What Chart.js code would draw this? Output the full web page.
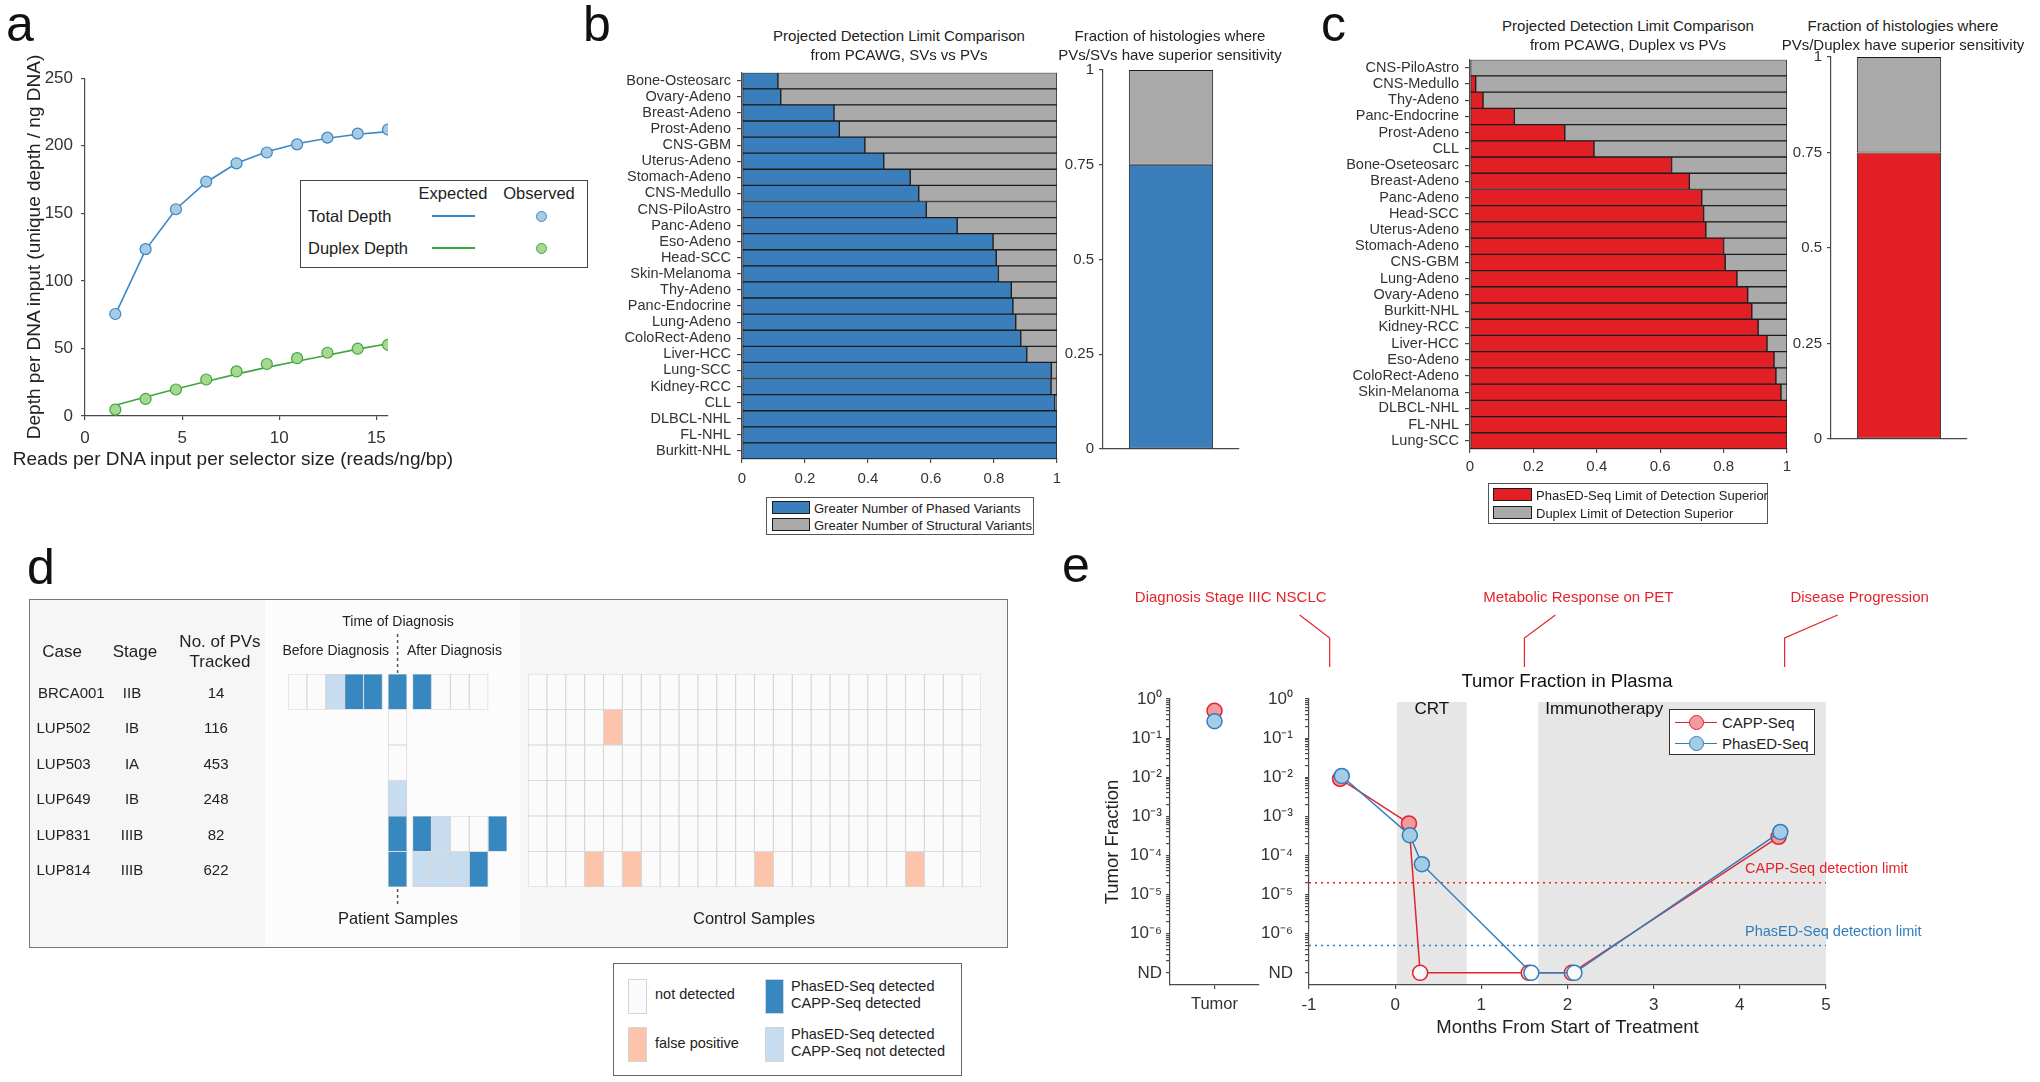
<!DOCTYPE html>
<html>
<head>
<meta charset="utf-8">
<title>PhasED-Seq figure</title>
<script src="https://cdn.jsdelivr.net/npm/chart.js@4.4.1/dist/chart.umd.min.js"></script>
<style>
  html, body { margin: 0; padding: 0; background: #fff; }
  body { position: relative; width: 2040px; height: 1082px; overflow: hidden;
         font-family: 'Liberation Sans', Arial, Helvetica, sans-serif; color: #222; }
  canvas { position: absolute; }
  .lbl { position: absolute; white-space: nowrap; line-height: 1; }
  .blk { position: absolute; box-sizing: border-box; }
</style>
</head>
<body>
<script>
// ---------- a: depth vs reads ----------
const readsPerBp      = [1.56, 3.12, 4.68, 6.24, 7.8, 9.36, 10.92, 12.48, 14.04, 15.6];
const totalObserved   = [75.5, 123.5, 153, 173.5, 187, 195, 201, 206, 209, 212];
const totalExpected   = [75, 123, 153, 173, 187, 195.5, 201.5, 205.5, 208.5, 210.5];
const duplexObserved  = [4.7, 12.6, 19.6, 27, 33, 38.5, 42.8, 46.8, 49.8, 52.7];
const duplexExpected  = [8, 14, 20, 25.5, 31, 36, 40.5, 45, 49.5, 53.5];
const depthTicksX = [0, 5, 10, 15];
const depthTicksY = [0, 50, 100, 150, 200, 250];

// ---------- b: SVs vs PVs ----------
const histologiesSV = ['Bone-Osteosarc', 'Ovary-Adeno', 'Breast-Adeno', 'Prost-Adeno', 'CNS-GBM', 'Uterus-Adeno',
  'Stomach-Adeno', 'CNS-Medullo', 'CNS-PiloAstro', 'Panc-Adeno', 'Eso-Adeno', 'Head-SCC', 'Skin-Melanoma',
  'Thy-Adeno', 'Panc-Endocrine', 'Lung-Adeno', 'ColoRect-Adeno', 'Liver-HCC', 'Lung-SCC', 'Kidney-RCC', 'CLL',
  'DLBCL-NHL', 'FL-NHL', 'Burkitt-NHL'];
const pvOverSV = [0.114, 0.123, 0.292, 0.309, 0.39, 0.45, 0.534, 0.561, 0.585, 0.683, 0.797, 0.807, 0.814,
  0.855, 0.86, 0.869, 0.885, 0.904, 0.982, 0.981, 0.993, 1, 1, 1];
const pvOverSVSummary = 0.75;

// ---------- c: Duplex vs PVs ----------
const histologiesDuplex = ['CNS-PiloAstro', 'CNS-Medullo', 'Thy-Adeno', 'Panc-Endocrine', 'Prost-Adeno', 'CLL',
  'Bone-Oseteosarc', 'Breast-Adeno', 'Panc-Adeno', 'Head-SCC', 'Uterus-Adeno', 'Stomach-Adeno', 'CNS-GBM',
  'Lung-Adeno', 'Ovary-Adeno', 'Burkitt-NHL', 'Kidney-RCC', 'Liver-HCC', 'Eso-Adeno', 'ColoRect-Adeno',
  'Skin-Melanoma', 'DLBCL-NHL', 'FL-NHL', 'Lung-SCC'];
const pvOverDuplex = [0, 0.018, 0.041, 0.14, 0.299, 0.391, 0.636, 0.692, 0.731, 0.737, 0.744, 0.8, 0.805,
  0.842, 0.876, 0.889, 0.909, 0.937, 0.959, 0.965, 0.981, 1, 1, 1];
const pvOverDuplexSummary = 0.75;

const fracTicks = [0, 0.2, 0.4, 0.6, 0.8, 1];
const fracLabels = ['0', '0.2', '0.4', '0.6', '0.8', '1'];
const summaryTicks = [0, 0.25, 0.5, 0.75, 1];
const summaryLabels = ['0', '0.25', '0.5', '0.75', '1'];

// ---------- d: patient / control samples ----------
const cases = ['BRCA001', 'LUP502', 'LUP503', 'LUP649', 'LUP831', 'LUP814'];
const stages = ['IIB', 'IB', 'IA', 'IB', 'IIIB', 'IIIB'];
const pvsTracked = [14, 116, 453, 248, 82, 622];
// 0 not detected, 1 false positive, 2 both detected, 3 PhasED-Seq only
const beforeDx = [[0, 0, 3, 2, 2], [], [], [], [], []];
const atDx = [2, 0, 0, 3, 2, 2];
const afterDx = [[2, 0, 0, 0], [], [], [], [2, 3, 0, 0, 2], [3, 3, 3, 2]];
const controlCount = 24;
const controlFalsePos = [[], [4], [], [], [], [3, 5, 12, 20]];

// ---------- e: tumor fraction in plasma ----------
const ND = 1e-7;
const monthsCapp   = [-0.64, 0.16, 0.29, 1.55, 2.05, 4.45];
const tfCapp       = [9.1e-3, 6.6e-4, ND, ND, ND, 3.0e-4];
const monthsPhased = [-0.62, 0.17, 0.31, 1.58, 2.08, 4.47];
const tfPhased     = [1.08e-2, 3.3e-4, 6e-5, ND, ND, 4.0e-4];
const tumorCapp = 0.5, tumorPhased = 0.27;
const cappLimit = 2e-5, phasedLimit = 5e-7;
const therapyNames = ['CRT', 'Immunotherapy'];
const therapyStart = [0.02, 1.66];
const therapyEnd   = [0.83, 5];
const events = ['Diagnosis Stage IIIC NSCLC', 'Metabolic Response on PET', 'Disease Progression'];
const eventMonth = [-0.76, 1.5, 4.52];
const monthTicks = [-1, 0, 1, 2, 3, 4, 5];
const tfDecadeLabels = ['ND', '10⁻⁶', '10⁻⁵', '10⁻⁴', '10⁻³', '10⁻²', '10⁻¹', '10⁰'];

// ---------- styling ----------
const FONT = "'Liberation Sans', Arial, Helvetica, sans-serif";
const BLUE = '#3a7fbc', GREY = '#aaaaaa', RED = '#e31f26', EDGE = '#1c1c1c';
const AXIS = '#4a4a4a', TICK = '#333';
const E_RED = '#e4232b', E_RED_FILL = '#f39a9e', E_BLUE = '#2e7ebf', E_BLUE_FILL = '#a4cde4';
const CELL_FILL = ['#fbfbfb', '#fbc4ab', '#3787c1', '#c7dcef'];
const CELL_EDGE = '#d5d5d5';

Chart.defaults.font.family = FONT;
Chart.defaults.color = TICK;
Chart.defaults.animation = false;
Chart.defaults.events = [];
Chart.defaults.plugins.legend.display = false;
Chart.defaults.plugins.tooltip.enabled = false;

function mount(x, y, w, h) {
  const c = document.createElement('canvas');
  c.width = w; c.height = h;
  c.style.left = x + 'px'; c.style.top = y + 'px';
  c.style.width = w + 'px'; c.style.height = h + 'px';
  document.body.appendChild(c);
  return c;
}

function text(str, x, y, size, opt = {}) {
  const d = document.createElement('div');
  d.className = 'lbl';
  d.textContent = str;
  const shift = {left: '0', center: '-50%', right: '-100%'}[opt.align || 'center'];
  const rot = opt.rotate ? ` rotate(${opt.rotate}deg)` : '';
  Object.assign(d.style, {left: x + 'px', top: y + 'px', fontSize: size + 'px',
    color: opt.color || '#222', transform: `translate(${shift}, -50%)${rot}`});
  document.body.appendChild(d);
}

function block(x, y, w, h, css) {
  const d = document.createElement('div');
  d.className = 'blk';
  d.style.cssText = `left:${x}px;top:${y}px;width:${w}px;height:${h}px;${css}`;
  document.body.appendChild(d);
}

function merge(base, extra) {
  const out = Object.assign({}, base);
  for (const k in extra) {
    const v = extra[k];
    const plain = v && typeof v === 'object' && !Array.isArray(v);
    out[k] = plain && base[k] && typeof base[k] === 'object' ? merge(base[k], v) : v;
  }
  return out;
}

const axis = extra => merge({
  border: {color: AXIS, width: 1.2},
  grid: {drawOnChartArea: false, color: AXIS, tickLength: 4, lineWidth: 1.2},
  ticks: {font: {size: 15}, color: TICK, autoSkip: false, maxRotation: 0, padding: 4}
}, extra || {});

const setTicks = values => s => { s.ticks = values.map(v => ({value: v})); };
const labelAt = labels => (v, i) => labels[i];
const xy = (xs, ys) => xs.map((x, i) => ({x, y: ys[i]}));

// area = chart area in page pixels, m = room left for the axes around it
function chartAt(area, m, config) {
  const w = area.r - area.l + m.l + m.r, h = area.b - area.t + m.t + m.b;
  const cv = mount(area.l - m.l, area.t - m.t, w, h);
  const o = config.options;
  o.responsive = false;
  o.layout = {padding: {left: 0, right: m.r, top: m.t, bottom: 0}};
  o.scales.x.afterFit = s => { s.height = m.b; };
  o.scales.y.afterFit = s => { s.width = m.l; };
  return new Chart(cv, config);
}

// ---------- panel d backgrounds (behind the grids) ----------
block(29, 599, 236, 349, 'background:#f6f6f6');
block(265, 599, 255, 349, 'background:#fcfcfc');
block(520, 599, 488, 349, 'background:#f6f6f6');

// ---------- a ----------
chartAt({l: 85, t: 78, r: 388, b: 416}, {l: 85, t: 18, r: 12, b: 40}, {
  type: 'line',
  data: {datasets: [
    {data: xy(readsPerBp, totalObserved), showLine: false, pointRadius: 5.5, pointBorderWidth: 1.2,
      pointBackgroundColor: '#a6cbe3', pointBorderColor: '#3a87c6'},
    {data: xy(readsPerBp, duplexObserved), showLine: false, pointRadius: 5.5, pointBorderWidth: 1.2,
      pointBackgroundColor: '#a6d88f', pointBorderColor: '#3ea63e'},
    {data: xy(readsPerBp, totalExpected), borderColor: '#3a87c6', borderWidth: 1.6, pointRadius: 0},
    {data: xy(readsPerBp, duplexExpected), borderColor: '#3ea63e', borderWidth: 1.6, pointRadius: 0}
  ]},
  options: {scales: {
    x: axis({type: 'linear', min: 0, max: 15.6, afterBuildTicks: setTicks(depthTicksX),
      ticks: {font: {size: 17}, padding: 8}}),
    y: axis({min: 0, max: 250, afterBuildTicks: setTicks(depthTicksY),
      ticks: {font: {size: 17}, padding: 8}})
  }}
});
text('Reads per DNA input per selector size (reads/ng/bp)', 233, 458, 19);
text('Depth per DNA input (unique depth / ng DNA)', 33, 247, 19, {rotate: -90});

// ---------- b, c ----------
const barSet = (label, data, color) => ({label, data, backgroundColor: color, borderColor: EDGE,
  borderWidth: 1, borderSkipped: false, barPercentage: 1, categoryPercentage: 1});

function histologyChart(area, m, labels, values, color, names, labelPad, tickPad) {
  chartAt(area, m, {
    type: 'bar',
    data: {labels, datasets: [
      barSet(names[0], values, color),
      barSet(names[1], values.map(v => 1 - v), GREY)
    ]},
    options: {indexAxis: 'y', scales: {
      x: axis({stacked: true, min: 0, max: 1, afterBuildTicks: setTicks(fracTicks),
        ticks: {callback: labelAt(fracLabels), padding: tickPad}}),
      y: axis({stacked: true, grid: {offset: false, tickLength: 5},
        ticks: {font: {size: 14.5}, padding: labelPad}})
    }}
  });
}

function summaryChart(area, value, color) {
  const one = (v, c) => ({data: [v], backgroundColor: c, borderColor: EDGE, borderWidth: 1,
    borderSkipped: false, barPercentage: 0.62, categoryPercentage: 1});
  chartAt(area, {l: 50, t: 12, r: 5, b: 4}, {
    type: 'bar',
    data: {labels: [''], datasets: [one(value, color), one(1 - value, GREY)]},
    options: {scales: {
      x: axis({stacked: true, grid: {display: false}, ticks: {display: false}}),
      y: axis({stacked: true, min: 0, max: 1, afterBuildTicks: setTicks(summaryTicks),
        ticks: {callback: labelAt(summaryLabels), padding: 5}})
    }}
  });
}

histologyChart({l: 742, t: 68, r: 1057, b: 459}, {l: 160, t: 10, r: 14, b: 40}, histologiesSV, pvOverSV, BLUE,
  ['Greater Number of Phased Variants', 'Greater Number of Structural Variants'], 6, 7);
summaryChart({l: 1103, t: 68, r: 1239, b: 459}, pvOverSVSummary, BLUE);

histologyChart({l: 1470, t: 55, r: 1787, b: 449}, {l: 170, t: 10, r: 14, b: 40}, histologiesDuplex, pvOverDuplex, RED,
  ['PhasED-Seq Limit of Detection Superior', 'Duplex Limit of Detection Superior'], 6, 5);
summaryChart({l: 1831, t: 55, r: 1967, b: 449}, pvOverDuplexSummary, RED);

// ---------- d: sample grids ----------
function gridAt(area, columns, xMax) {
  const pad = 2;
  const cv = mount(area.l - pad, area.t - pad, area.r - area.l + 2 * pad, area.b - area.t + 2 * pad);
  new Chart(cv, {
    type: 'bar',
    data: {labels: cases, datasets: columns.map(col => ({
      data: col.states.map(s => s == null ? null : [col.x0, col.x1]),
      backgroundColor: col.states.map(s => s == null ? 'rgba(0,0,0,0)' : CELL_FILL[s]),
      borderColor: CELL_EDGE, borderWidth: 0.9, borderSkipped: false,
      barPercentage: 1, categoryPercentage: 1, grouped: false
    }))},
    options: {responsive: false, indexAxis: 'y', layout: {padding: pad},
      scales: {x: {type: 'linear', display: false, min: 0, max: xMax}, y: {display: false}}}
  });
}

const patientCols = [];
for (let k = 0; k < 5; k++) patientCols.push({x0: k, x1: k + 1, states: cases.map((_, r) => beforeDx[r][k])});
patientCols.push({x0: 5.3, x1: 6.3, states: atDx});
for (let k = 0; k < 5; k++) patientCols.push({x0: 6.6 + k, x1: 7.6 + k, states: cases.map((_, r) => afterDx[r][k])});
gridAt({l: 288, t: 674, r: 507, b: 887}, patientCols, 11.6);

const controlCols = [];
for (let c = 0; c < controlCount; c++) {
  controlCols.push({x0: c, x1: c + 1, states: cases.map((_, r) => controlFalsePos[r].includes(c) ? 1 : 0)});
}
gridAt({l: 528, t: 674, r: 981, b: 887}, controlCols, controlCount);

// ---------- e ----------
const tfTickValues = [];
for (let e = -7; e <= 0; e++) {
  tfTickValues.push(10 ** e);
  if (e < 0) for (let k = 2; k <= 9; k++) tfTickValues.push(k * 10 ** e);
}
tfTickValues.sort((a, b) => a - b);
const tfLabel = v => {
  const e = Math.log10(v), r = Math.round(e);
  return Math.abs(e - r) < 1e-6 ? tfDecadeLabels[r + 7] : '';
};
const yTF = {type: 'logarithmic', min: 10 ** -7.31, max: 1,
  afterBuildTicks: s => { s.ticks = tfTickValues.map(v => ({value: v})); },
  ticks: {callback: v => tfLabel(v), font: {size: 17}, padding: 12}};

const marker = (edge, fill) => ({borderColor: edge, borderWidth: 1.5, pointRadius: 7.5, pointBorderWidth: 1.5,
  pointBorderColor: edge, pointBackgroundColor: c => (c.raw && (c.raw.y ?? c.raw) <= ND) ? '#fafafa' : fill});
const limitLine = (v, c) => ({data: [{x: -1, y: v}, {x: 5, y: v}], borderColor: c, borderWidth: 1.5,
  borderDash: [2, 4], pointRadius: 0, order: 3});

const therapyShading = {
  id: 'therapyShading',
  beforeDraw(chart) {
    const {ctx, chartArea: a, scales: {x}} = chart;
    ctx.save();
    ctx.fillStyle = '#e6e6e6';
    therapyStart.forEach((s, i) => {
      const x0 = x.getPixelForValue(s), x1 = x.getPixelForValue(therapyEnd[i]);
      ctx.fillRect(x0, a.top + 3, x1 - x0, a.bottom - a.top - 3);
    });
    ctx.fillStyle = '#111';
    ctx.font = `17px ${FONT}`;
    ctx.textBaseline = 'middle';
    therapyNames.forEach((name, i) => {
      const x0 = x.getPixelForValue(therapyStart[i]), x1 = x.getPixelForValue(therapyEnd[i]);
      if (i === 0) { ctx.textAlign = 'center'; ctx.fillText(name, (x0 + x1) / 2, a.top + 10); }
      else { ctx.textAlign = 'left'; ctx.fillText(name, x0 + 7, a.top + 10); }
    });
    ctx.restore();
  }
};

const annotations = {
  id: 'annotations',
  afterDraw(chart) {
    const {ctx, chartArea: a, scales: {x, y}} = chart;
    ctx.save();
    ctx.textBaseline = 'middle';
    ctx.textAlign = 'left';
    ctx.font = `14.5px ${FONT}`;
    [[cappLimit, E_RED, 'CAPP-Seq detection limit'], [phasedLimit, E_BLUE, 'PhasED-Seq detection limit']]
      .forEach(([v, c, t]) => {
        ctx.fillStyle = c;
        ctx.fillText(t, x.getPixelForValue(4.06), y.getPixelForValue(v) - 14);
      });
    // event call-outs above the plot
    const elbowDx = [-30, 31, 53], labelDx = [-99, 54, 75];
    ctx.strokeStyle = E_RED; ctx.fillStyle = E_RED; ctx.lineWidth = 1.2;
    ctx.font = `15px ${FONT}`; ctx.textAlign = 'center';
    events.forEach((name, i) => {
      const xb = x.getPixelForValue(eventMonth[i]);
      ctx.beginPath();
      ctx.moveTo(xb, a.top - 32); ctx.lineTo(xb, a.top - 61); ctx.lineTo(xb + elbowDx[i], a.top - 84);
      ctx.stroke();
      ctx.fillText(name, xb + labelDx[i], a.top - 101);
    });
    ctx.restore();
  }
};

chartAt({l: 1309, t: 699, r: 1826, b: 985}, {l: 200, t: 114, r: 214, b: 60}, {
  type: 'line',
  data: {datasets: [
    Object.assign({label: 'PhasED-Seq', data: xy(monthsPhased, tfPhased), order: 1}, marker(E_BLUE, E_BLUE_FILL)),
    Object.assign({label: 'CAPP-Seq', data: xy(monthsCapp, tfCapp), order: 2}, marker(E_RED, E_RED_FILL)),
    limitLine(cappLimit, E_RED),
    limitLine(phasedLimit, E_BLUE)
  ]},
  options: {scales: {
    x: axis({type: 'linear', min: -1, max: 5, afterBuildTicks: setTicks(monthTicks),
      ticks: {font: {size: 17}, padding: 6},
      title: {display: true, text: 'Months From Start of Treatment', color: '#222', font: {size: 18.5},
        padding: {top: 0, bottom: 6}}}),
    y: axis(yTF)
  }},
  plugins: [therapyShading, annotations]
});

chartAt({l: 1170, t: 699, r: 1263, b: 985}, {l: 80, t: 15, r: 5, b: 30}, {
  type: 'line',
  data: {labels: ['Tumor'], datasets: [
    Object.assign({data: [tumorPhased], showLine: false, order: 1}, marker(E_BLUE, E_BLUE_FILL)),
    Object.assign({data: [tumorCapp], showLine: false, order: 2}, marker(E_RED, E_RED_FILL))
  ]},
  options: {scales: {
    x: axis({type: 'category', offset: true, grid: {offset: false}, ticks: {font: {size: 16.5}, padding: 6}}),
    y: axis(merge(yTF, {ticks: {padding: 4},
      title: {display: true, text: 'Tumor Fraction', color: '#222', font: {size: 18.5}, padding: {top: 12, bottom: 0}}}))
  }}
});

// ---------- panel letters ----------
text('a', 6, 24, 50, {align: 'left', color: '#111'});
text('b', 583, 24, 50, {align: 'left', color: '#111'});
text('c', 1321, 24, 50, {align: 'left', color: '#111'});
text('d', 27, 567, 50, {align: 'left', color: '#111'});
text('e', 1062, 565, 50, {align: 'left', color: '#111'});

// ---------- a legend ----------
block(300, 180, 288, 88, 'border:1.5px solid #444;background:#fff');
text('Expected', 453, 193, 16.5);
text('Observed', 539, 193, 16.5);
text('Total Depth', 308, 216, 16.5, {align: 'left'});
text('Duplex Depth', 308, 248, 16.5, {align: 'left'});
block(432, 215, 43, 1.6, 'background:#3a87c6');
block(432, 247, 43, 1.6, 'background:#3ea63e');
block(535.5, 210.5, 11, 11, 'border-radius:50%;background:#a6cbe3;border:1.2px solid #3a87c6');
block(535.5, 242.5, 11, 11, 'border-radius:50%;background:#a6d88f;border:1.2px solid #3ea63e');

// ---------- b / c titles and legends ----------
text('Projected Detection Limit Comparison', 899, 35, 15);
text('from PCAWG, SVs vs PVs', 899, 53.5, 15);
text('Fraction of histologies where', 1170, 35, 15);
text('PVs/SVs have superior sensitivity', 1170, 53.5, 15);
block(766, 497, 268, 38, 'border:1.5px solid #555;background:#fff');
block(772, 500.5, 38, 13, `background:${BLUE};border:1.2px solid ${EDGE}`);
block(772, 518, 38, 13, `background:${GREY};border:1.2px solid ${EDGE}`);
text('Greater Number of Phased Variants', 814, 507.5, 13, {align: 'left'});
text('Greater Number of Structural Variants', 814, 525, 13, {align: 'left'});

text('Projected Detection Limit Comparison', 1628, 25, 15);
text('from PCAWG, Duplex vs PVs', 1628, 43.5, 15);
text('Fraction of histologies where', 1903, 25, 15);
text('PVs/Duplex have superior sensitivity', 1903, 43.5, 15);
block(1488, 483, 280, 41, 'border:1.5px solid #555;background:#fff');
block(1493, 488, 39, 13, `background:${RED};border:1.2px solid ${EDGE}`);
block(1493, 506, 39, 13, `background:${GREY};border:1.2px solid ${EDGE}`);
text('PhasED-Seq Limit of Detection Superior', 1536, 495, 13, {align: 'left'});
text('Duplex Limit of Detection Superior', 1536, 513, 13, {align: 'left'});

// ---------- d table ----------
block(29, 599, 979, 349, 'border:1.5px solid #777');
text('Case', 62, 651, 17);
text('Stage', 135, 651, 17);
text('No. of PVs', 220, 641, 17);
text('Tracked', 220, 661, 17);
cases.forEach((c, i) => {
  const yc = 674 + 17.75 + 35.5 * i;
  text(c, i === 0 ? 38 : 36.5, yc, 15, {align: 'left'});
  text(stages[i], 132, yc, 15);
  text(String(pvsTracked[i]), 216, yc, 15);
});
text('Time of Diagnosis', 398, 621, 14);
text('Before Diagnosis', 389, 650, 14, {align: 'right'});
text('After Diagnosis', 407, 650, 14, {align: 'left'});
text('Patient Samples', 398, 918, 16.5);
text('Control Samples', 754, 918, 16.5);

block(613, 963, 349, 113, 'border:1.5px solid #666;background:#fff');
block(628, 979, 19, 35, `background:${CELL_FILL[0]};border:1px solid ${CELL_EDGE}`);
block(628, 1027, 19, 35, `background:${CELL_FILL[1]};border:1px solid ${CELL_EDGE}`);
block(765, 979, 19, 35, `background:${CELL_FILL[2]};border:1px solid ${CELL_EDGE}`);
block(765, 1027, 19, 35, `background:${CELL_FILL[3]};border:1px solid ${CELL_EDGE}`);
text('not detected', 655, 994, 14.5, {align: 'left'});
text('false positive', 655, 1043, 14.5, {align: 'left'});
text('PhasED-Seq detected', 791, 986, 14.5, {align: 'left'});
text('CAPP-Seq detected', 791, 1003, 14.5, {align: 'left'});
text('PhasED-Seq detected', 791, 1034, 14.5, {align: 'left'});
text('CAPP-Seq not detected', 791, 1051, 14.5, {align: 'left'});

// ---------- e title and legend ----------
text('Tumor Fraction in Plasma', 1567, 681, 18.5, {color: '#111'});
block(1669, 709, 146, 46, 'border:1.5px solid #333;background:#fff');
block(1675, 721.5, 42, 1.5, `background:${E_RED}`);
block(1675, 742.5, 42, 1.5, `background:${E_BLUE}`);
block(1689, 715, 15, 15, `border-radius:50%;background:${E_RED_FILL};border:1.5px solid ${E_RED}`);
block(1689, 736, 15, 15, `border-radius:50%;background:${E_BLUE_FILL};border:1.5px solid ${E_BLUE}`);
text('CAPP-Seq', 1722, 722, 15, {align: 'left'});
text('PhasED-Seq', 1722, 743, 15, {align: 'left'});
</script>
<svg width="2040" height="1082" style="position:absolute;left:0;top:0;z-index:5;pointer-events:none">
  <line x1="397.6" y1="634" x2="397.6" y2="673" stroke="#555" stroke-width="1.5" stroke-dasharray="3,3"/>
  <line x1="397.6" y1="889" x2="397.6" y2="907" stroke="#555" stroke-width="1.5" stroke-dasharray="3,3"/>
</svg>
</body>
</html>
